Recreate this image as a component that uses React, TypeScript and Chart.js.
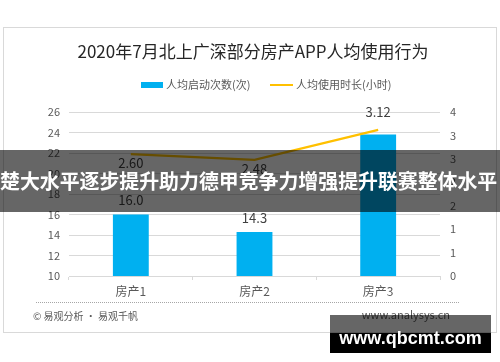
import React, { useEffect, useRef } from 'react';
import { Chart, registerables } from 'chart.js';

Chart.register(...registerables);

const TITLE = '2020年7月北上广深部分房产APP人均使用行为';
const categories = ['房产1', '房产2', '房产3'];
const seriesNames = ['人均启动次数(次)', '人均使用时长(小时)'];
const launchCounts = [16.0, 14.3, 23.8];
const usageHours = [2.6, 2.48, 3.12];
const barLabelShown = [true, true, false];
const leftAxis = { min: 10, max: 26, step: 2 };
const rightAxis = { min: 0, max: 3.5, step: 0.5 };
const FOOTER_LEFT = '© 易观分析 · 易观千帆';
const FOOTER_RIGHT = 'www.analysys.cn';
const BANNER = '楚大水平逐步提升助力德甲竞争力增强提升联赛整体水平';
const WATERMARK = 'www.qbcmt.com';

const FONT = "'Noto Sans CJK SC', 'Noto Sans', sans-serif";
const BAR_COLOR = '#00B0F0';
const LINE_COLOR = '#FFC000';
const TEXT_GRAY = '#595959';
const GRID = '#d9d9d9';

const decorPlugin = {
  id: 'decor',
  afterDatasetsDraw(chart: any) {
    const ctx = chart.ctx;
    ctx.save();
    ctx.fillStyle = '#404040';
    ctx.font = `13px ${FONT}`;
    ctx.textAlign = 'center';
    ctx.textBaseline = 'middle';
    const barMeta = chart.getDatasetMeta(0);
    barMeta.data.forEach((el: any, i: number) => {
      if (barLabelShown[i]) ctx.fillText(launchCounts[i].toFixed(1), el.x, el.y - 14);
    });
    const lineMeta = chart.getDatasetMeta(1);
    lineMeta.data.forEach((el: any, i: number) => {
      const above = i === lineMeta.data.length - 1;
      ctx.fillText(usageHours[i].toFixed(2), el.x, above ? el.y - 18 : el.y + 9);
    });
    ctx.restore();
  },
  afterDraw(chart: any) {
    const ctx = chart.ctx;
    ctx.save();
    // title
    ctx.fillStyle = '#262626';
    ctx.font = `17px ${FONT}`;
    ctx.textAlign = 'center';
    ctx.textBaseline = 'middle';
    ctx.fillText(TITLE, 253, 52);
    // legend
    ctx.font = `11px ${FONT}`;
    ctx.textAlign = 'left';
    ctx.fillStyle = BAR_COLOR;
    ctx.fillRect(141, 82, 22, 6);
    ctx.fillStyle = TEXT_GRAY;
    ctx.fillText(seriesNames[0], 166, 85);
    ctx.strokeStyle = LINE_COLOR;
    ctx.lineWidth = 2;
    ctx.beginPath();
    ctx.moveTo(270, 85);
    ctx.lineTo(293, 85);
    ctx.stroke();
    ctx.fillText(seriesNames[1], 296, 85);
    // dotted separator
    ctx.strokeStyle = '#a6a6a6';
    ctx.lineWidth = 1;
    ctx.setLineDash([1, 1]);
    ctx.beginPath();
    ctx.moveTo(36, 302.5);
    ctx.lineTo(460, 302.5);
    ctx.stroke();
    ctx.setLineDash([]);
    // footer
    ctx.font = `10px ${FONT}`;
    ctx.fillStyle = TEXT_GRAY;
    ctx.textAlign = 'left';
    ctx.fillText(FOOTER_LEFT, 33, 316);
    ctx.font = `11px ${FONT}`;
    ctx.textAlign = 'right';
    ctx.fillText(FOOTER_RIGHT, 450, 315);
    ctx.restore();
  },
};

export default function App() {
  const ref = useRef<HTMLCanvasElement | null>(null);

  useEffect(() => {
    if (!ref.current) return;
    const chart = new Chart(ref.current, {
      type: 'bar',
      data: {
        labels: categories,
        datasets: [
          {
            type: 'bar',
            label: seriesNames[0],
            data: launchCounts,
            backgroundColor: BAR_COLOR,
            barPercentage: 0.29,
            categoryPercentage: 1,
            yAxisID: 'y',
            order: 1,
          },
          {
            type: 'line',
            label: seriesNames[1],
            data: usageHours,
            borderColor: LINE_COLOR,
            borderWidth: 2.25,
            pointRadius: 0,
            tension: 0,
            yAxisID: 'y1',
            order: 0,
          },
        ] as any,
      },
      options: {
        animation: false,
        responsive: false,
        maintainAspectRatio: false,
        layout: { padding: { left: 20, right: 20, top: 112, bottom: 56 } },
        plugins: {
          legend: { display: false },
          title: { display: false },
          tooltip: { enabled: false },
        },
        scales: {
          x: {
            afterFit(scale: any) {
              scale.height = 30;
            },
            grid: {
              offset: true,
              drawOnChartArea: false,
              drawTicks: true,
              tickLength: 4,
              color: GRID,
            },
            border: { color: GRID },
            ticks: { color: TEXT_GRAY, font: { size: 12, family: FONT }, padding: 4 },
          },
          y: {
            position: 'left',
            min: leftAxis.min,
            max: leftAxis.max,
            afterFit(scale: any) {
              scale.width = 49;
            },
            grid: { color: GRID, drawTicks: false },
            border: { display: false },
            ticks: {
              stepSize: leftAxis.step,
              color: TEXT_GRAY,
              font: { size: 11, family: FONT },
              padding: 9,
            },
          },
          y1: {
            position: 'right',
            min: rightAxis.min,
            max: rightAxis.max,
            afterFit(scale: any) {
              scale.width = 40;
            },
            grid: { display: false, drawOnChartArea: false, drawTicks: false },
            border: { display: false },
            ticks: {
              stepSize: rightAxis.step,
              color: TEXT_GRAY,
              font: { size: 11, family: FONT },
              padding: 10,
              callback: (v: any) => String(Math.round(Number(v))),
            },
          },
        },
      } as any,
      plugins: [decorPlugin],
    });
    return () => chart.destroy();
  }, []);

  return (
    <div style={{ position: 'absolute', left: 0, top: 0, width: 500, height: 362, background: '#fff', overflow: 'hidden' }}>
      <canvas ref={ref} width={500} height={362} style={{ display: 'block', width: 500, height: 362 }} />
      <div
        style={{
          position: 'absolute', left: 3, top: 27, width: 494, height: 306,
          border: `1px solid ${GRID}`, boxSizing: 'border-box', pointerEvents: 'none',
        }}
      />
      <div
        style={{
          position: 'absolute', left: 0, top: 150, width: 500, height: 62,
          background: 'rgba(0,0,0,0.6)', color: '#fff', fontFamily: FONT, fontWeight: 700,
          fontSize: 19.9, lineHeight: '62px', textAlign: 'left', whiteSpace: 'nowrap', overflow: 'hidden',
        }}
      >
        {BANNER}
      </div>
      <div style={{ position: 'absolute', left: 330, top: 315, width: 161, height: 18, background: 'rgba(0,0,0,0.6)' }} />
      <div style={{ position: 'absolute', left: 330, top: 333, width: 161, height: 20, background: '#000' }} />
      <div
        style={{
          position: 'absolute', left: 330, top: 315, width: 161, height: 38, color: '#fff',
          fontFamily: "'Liberation Sans', Arial, sans-serif", fontWeight: 700, fontSize: 18,
          lineHeight: '46px', textAlign: 'center', whiteSpace: 'nowrap',
        }}
      >
        {WATERMARK}
      </div>
    </div>
  );
}
